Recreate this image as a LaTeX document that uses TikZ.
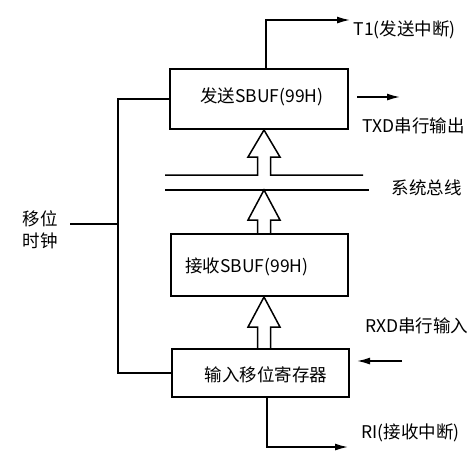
\documentclass[tikz,border=0pt]{standalone}
\usepackage{fontspec}
\newfontfamily\cjk{Noto Sans CJK SC}
\usetikzlibrary{arrows.meta,positioning}

\begin{document}
\begin{tikzpicture}[x=1pt,y=-1pt,line width=1.5pt,
  reg/.style={draw,inner sep=0pt},
  lbl/.style={font=\cjk\fontsize{17.5}{19}\selectfont,inner sep=0pt},
  sig/.style={-{Latex[length=13pt,width=7pt]}}]
\useasboundingbox (0,0) rectangle (473,459);
% registers
\node[reg,minimum width=178pt,minimum height=60pt] (sbuft) at (259,99) {};
\node[reg,minimum width=177pt,minimum height=62pt] (sbufr) at (259.5,265) {};
\node[reg,minimum width=177pt,minimum height=48pt] (shreg) at (260.5,373) {};
\node[lbl] (tname) at (262,97) {发送SBUF(99H)};
\node[lbl] (rname) at (247,267) {接收SBUF(99H)};
\node[lbl] (sname) at (266,375) {输入移位寄存器};
% outside labels
\node[lbl,anchor=west] (t1) at (353,30) {T1(发送中断)};
\node[lbl,anchor=west] (txd) at (362,126) {TXD串行输出};
\node[lbl,anchor=west] (bus) at (391,188) {系统总线};
\node[lbl,anchor=east] (rxd) at (469,326) {RXD串行输入};
\node[lbl,anchor=west] (ri) at (361,433) {RI(接收中断)};
\node[lbl,align=center] (clk) at (40,230) {移位\\[3pt]时钟};
\coordinate (t1end) at (350,20);
\coordinate (txdend) at (400,97);
\coordinate (rxdin) at (402,361);
\coordinate (riend) at (348,447);
\coordinate (clkbar) at (118,224);
% interrupt and serial lines
\draw[sig] ([xshift=7pt]sbuft.north) |- (t1end);
\draw[sig] (txdend -| 357,0) -- (txdend);
\draw[sig] (rxdin) -- (rxdin -| 357,0);
\draw[sig] ([xshift=6.5pt]shreg.south) |- (riend);
% shift clock
\draw (sbuft.west) -| (clkbar) |- (shreg.west);
\draw (clkbar) -- (clkbar -| 70,0);
% bus with hollow arrows
\draw (165,175) -- (257.5,175) -- (257.5,157) -- (248,157) -- (264,130)
      -- (280,157) -- (270.5,157) -- (270.5,175) -- (363,175);
\draw (165,190) -- (369,190);
\foreach \tip/\head/\bot in {190/220/234, 297/327/349} {
  \draw (257.5,\bot) -- (257.5,\head) -- (248,\head) -- (264,\tip)
        -- (280,\head) -- (270.5,\head) -- (270.5,\bot);
}
\end{tikzpicture}
\end{document}
